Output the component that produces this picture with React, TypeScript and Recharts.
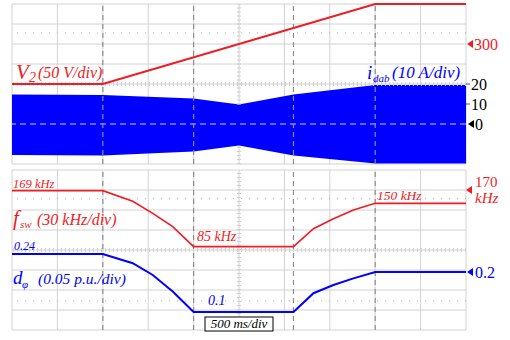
import React from 'react';
import { ComposedChart, Line, Area, XAxis, YAxis, CartesianGrid, ReferenceLine } from 'recharts';

const FONT = '"Liberation Serif", "Times New Roman", serif';
const RED = '#ee1c24';
const BLUE = '#0000ff';
const GRID = '#d2d2d2';
const MARK = '#8c8c8c';
const TICKS = '#cfcfcf';

// time axis (ms), 500 ms/div
const timeTicks = [0, 500, 1000, 1500, 2000, 2500, 3000, 3500, 4000, 4500, 5000];
const eventTimes = [1000, 2000, 3100, 4000];
const centerTime = 2500;

// V2 (V)
const v2Times = [0, 1000, 4000, 5000];
const v2Values = [200, 200, 400, 400];

// i_dab envelope (A)
const iTimes = [0, 1000, 2000, 2500, 3100, 4000, 5000];
const iHigh = [14.8, 14.5, 12.8, 9.8, 14.8, 19.5, 19.5];
const iLow = [-15.5, -15.8, -13.8, -10.8, -15.8, -19.7, -19.7];

// fsw (kHz) and d_phi (p.u.)
const ctrlTimes = [0, 1000, 1330, 1550, 1770, 2000, 3100, 3320, 3540, 3760, 4000, 5000];
const fswValues = [169, 169, 153, 135, 115, 85, 85, 112, 127, 140, 150, 150];
const dphiValues = [0.245, 0.245, 0.222, 0.1925, 0.151, 0.1, 0.1, 0.147, 0.1675, 0.184, 0.2, 0.2];

// axes
const v2Domain = [0, 400];
const v2Ticks = [300];
const v2Dotted = 327.5;
const iDomain = [-20, 60];
const iTicks = [-20, -10, 0, 10, 20, 30, 40, 50, 60];
const iLabelTicks = [0, 10, 20];
const fswDomain = [-40, 200];
const fswTicks = [-40, -10, 20, 50, 80, 110, 140, 170, 200];
const fswLabelTicks = [170];
const fswCenter = 80;
const fswDotted = 157;
const dphiDomain = [0.055, 0.455];
const dphiTicks = [0.2];
const dphiDotted = 0.1275;

const v2Data = v2Times.map((t, k) => ({ t, v2: v2Values[k] }));
const iData = iTimes.map((t, k) => ({ t, i: [iLow[k], iHigh[k]] }));
const ctrlData = ctrlTimes.map((t, k) => ({ t, fsw: fswValues[k], dphi: dphiValues[k] }));
const centerIdx = iTimes.indexOf(centerTime);

const Tri = ({ x, y, color }: any) => (
  <path d={`M${x},${y} L${x + 6},${y - 4} L${x + 6},${y + 4} Z`} fill={color} />
);

const V2Tick = (p: any) => {
  const { x, y, payload } = p;
  if (!v2Ticks.includes(payload.value)) return <g />;
  return (
    <g>
      <Tri x={x + 1} y={y} color={RED} />
      <text x={x + 8} y={y} dy="0.36em" fill={RED} fontSize={16} fontFamily={FONT}>{payload.value}</text>
    </g>
  );
};

const CurTick = (p: any) => {
  const { x, y, payload } = p;
  const v = payload.value;
  if (!iLabelTicks.includes(v)) return <g />;
  if (v === 0) {
    return (
      <g>
        <Tri x={x + 1} y={y} color="#000" />
        <text x={x + 8} y={y} dy="0.36em" fill="#000" fontSize={16} fontFamily={FONT}>{v}</text>
      </g>
    );
  }
  return (
    <g>
      <line x1={x - 1} x2={x + 3} y1={y} y2={y} stroke="#555" strokeWidth={1} />
      <text x={x + 4} y={y} dy="0.36em" fill="#000" fontSize={16} fontFamily={FONT}>{v}</text>
    </g>
  );
};

const FswTick = (p: any) => {
  const { x, y, payload } = p;
  if (!fswLabelTicks.includes(payload.value)) return <g />;
  return (
    <g>
      <Tri x={x} y={y} color={RED} />
      <text x={x + 9} y={y - 8.5} dy="0.36em" fill={RED} fontSize={15} fontFamily={FONT}>{payload.value}</text>
      <text x={x + 9} y={y + 7.5} dy="0.36em" fill={RED} fontSize={15} fontFamily={FONT} fontStyle="italic">kHz</text>
    </g>
  );
};

const DphiTick = (p: any) => {
  const { x, y, payload } = p;
  return (
    <g>
      <Tri x={x} y={y} color={BLUE} />
      <text x={x + 8} y={y} dy="0.36em" fill={BLUE} fontSize={16} fontFamily={FONT}>{payload.value}</text>
    </g>
  );
};

export default function App() {
  return (
    <div style={{ position: 'absolute', left: 0, top: 0, width: 510, height: 340, background: '#fff', overflow: 'hidden' }}>
      <div style={{ position: 'absolute', left: 0, top: 0 }}>
        <ComposedChart width={510} height={170} margin={{ top: 4, right: 0, bottom: 6, left: 12 }}>
          <CartesianGrid stroke={GRID} yAxisId="b" />
          <XAxis type="number" dataKey="t" domain={[0, 5000]} ticks={timeTicks} hide />
          <YAxis yAxisId="b" orientation="right" domain={iDomain} ticks={iTicks} width={43}
            axisLine={false} tickLine={false} tickSize={0} tickMargin={0} tick={CurTick} interval={0} />
          <YAxis yAxisId="a" orientation="right" domain={v2Domain} ticks={v2Ticks} width={1}
            axisLine={false} tickLine={false} tickSize={0} tickMargin={0} tick={V2Tick} interval={0} />
          <ReferenceLine yAxisId="b" segment={[{ x: centerTime, y: iHigh[centerIdx] }, { x: centerTime, y: iDomain[1] }]}
            stroke={TICKS} strokeWidth={4} strokeDasharray="1 3" />
          <ReferenceLine yAxisId="b" segment={[{ x: centerTime, y: iDomain[0] }, { x: centerTime, y: iLow[centerIdx] }]}
            stroke={TICKS} strokeWidth={4} strokeDasharray="1 3" />
          <ReferenceLine yAxisId="b" y={20} stroke={TICKS} strokeWidth={4} strokeDasharray="1 3" />
          <ReferenceLine yAxisId="a" y={v2Dotted} stroke="#b0b0b0" strokeDasharray="1 7" />
          <Area yAxisId="b" data={iData} dataKey="i" type="linear" stroke="none" fill={BLUE} fillOpacity={1} isAnimationActive={false} />
          <ReferenceLine yAxisId="b" y={0} stroke="#c8c8f4" strokeWidth={1} strokeDasharray="6 4" />
          {eventTimes.map((t) => (
            <ReferenceLine key={t} yAxisId="b" x={t} stroke={MARK} strokeWidth={1.2} strokeDasharray="5 4" />
          ))}
          <Line yAxisId="a" data={v2Data} dataKey="v2" type="linear" stroke={RED} strokeWidth={2} dot={false} isAnimationActive={false} />
        </ComposedChart>
      </div>
      <div style={{ position: 'absolute', left: 0, top: 166 }}>
        <ComposedChart width={510} height={174} data={ctrlData} margin={{ top: 4, right: 0, bottom: 10, left: 12 }}>
          <CartesianGrid stroke={GRID} yAxisId="fa" />
          <XAxis type="number" dataKey="t" domain={[0, 5000]} ticks={timeTicks} hide />
          <YAxis yAxisId="fb" orientation="right" domain={dphiDomain} ticks={dphiTicks} width={43}
            axisLine={false} tickLine={false} tickSize={0} tickMargin={0} tick={DphiTick} interval={0} />
          <YAxis yAxisId="fa" orientation="right" domain={fswDomain} ticks={fswTicks} width={1}
            axisLine={false} tickLine={false} tickSize={0} tickMargin={0} tick={FswTick} interval={0} />
          <ReferenceLine yAxisId="fa" x={centerTime} stroke={TICKS} strokeWidth={4} strokeDasharray="1 3" />
          <ReferenceLine yAxisId="fa" y={fswCenter} stroke={TICKS} strokeWidth={4} strokeDasharray="1 3" />
          <ReferenceLine yAxisId="fa" y={fswDotted} stroke="#b0b0b0" strokeDasharray="1 7" />
          <ReferenceLine yAxisId="fb" y={dphiDotted} stroke="#b0b0b0" strokeDasharray="1 7" />
          {eventTimes.map((t) => (
            <ReferenceLine key={t} yAxisId="fa" x={t} stroke={MARK} strokeWidth={1.2} strokeDasharray="5 4" />
          ))}
          <Line yAxisId="fa" dataKey="fsw" type="linear" stroke={RED} strokeWidth={1.6} dot={false} isAnimationActive={false} />
          <Line yAxisId="fb" dataKey="dphi" type="linear" stroke={BLUE} strokeWidth={2} dot={false} isAnimationActive={false} />
        </ComposedChart>
      </div>
      <svg width={510} height={340} style={{ position: 'absolute', left: 0, top: 0, pointerEvents: 'none' }}
        fontFamily={FONT} fontStyle="italic">
        <text x={16} y={79} fill={RED} fontSize={21}>V</text>
        <text x={29} y={82} fill={RED} fontSize={14}>2</text>
        <text x={38} y={78} fill={RED} fontSize={16}>(50 V/div)</text>

        <text x={367} y={79} fill={BLUE} fontSize={19}>i</text>
        <text x={373} y={82} fill={BLUE} fontSize={11}>dab</text>
        <text x={392} y={78} fill={BLUE} fontSize={17}>(10 A/div)</text>

        <text x={13} y={187.5} fill={RED} fontSize={12.5}>169 kHz</text>
        <text x={13} y={225} fill={RED} fontSize={21}>f</text>
        <text x={20} y={228} fill={RED} fontSize={11}>sw</text>
        <text x={37} y={225} fill={RED} fontSize={16}>(30 kHz/div)</text>
        <text x={197} y={241} fill={RED} fontSize={14}>85 kHz</text>
        <text x={377} y={200} fill={RED} fontSize={13.5}>150 kHz</text>

        <text x={14} y={250} fill={BLUE} fontSize={12}>0.24</text>
        <text x={13} y={284} fill={BLUE} fontSize={19}>d</text>
        <text x={22} y={288} fill={BLUE} fontSize={11}>φ</text>
        <text x={38} y={283.5} fill={BLUE} fontSize={15.5}>(0.05 p.u./div)</text>
        <text x={208} y={305} fill={BLUE} fontSize={14}>0.1</text>

        <rect x={205} y={317} width={68} height={14} fill="#fff" stroke="#000" strokeWidth={1} />
        <text x={239} y={328} fill="#000" fontSize={13} textAnchor="middle">500 ms/div</text>
      </svg>
    </div>
  );
}
